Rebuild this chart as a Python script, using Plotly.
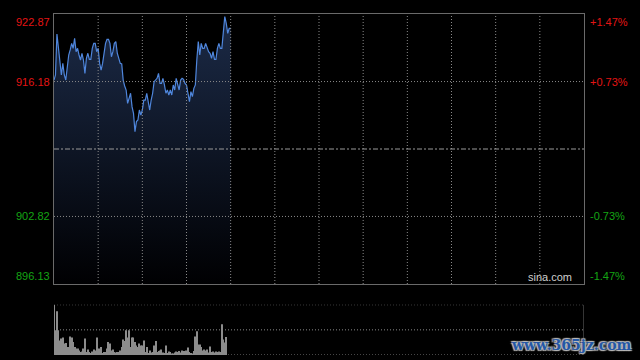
import plotly.graph_objects as go

# ---- data ----
prev_close = 909.50
y_min, y_max = 896.13, 922.87
left_labels = ["922.87", "916.18", "902.82", "896.13"]
left_values = [922.87, 916.18, 902.82, 896.13]
right_labels = ["+1.47%", "+0.73%", "-0.73%", "-1.47%"]
total_minutes = 360

price = [916.33, 916.83, 920.89, 919.64, 918.31, 916.83, 917.98, 916.83, 916.33, 917.98,
         918.81, 919.31, 919.96, 919.47, 920.46, 919.14, 919.47, 918.81, 918.31, 918.98,
         918.31, 916.99, 918.48, 918.98, 918.38, 918.38, 919.47, 919.96, 919.96, 919.14,
         919.47, 917.98, 917.32, 917.98, 918.98, 919.96, 920.36, 920.36, 919.96, 918.64,
         919.14, 919.96, 920.13, 918.98, 918.48, 917.98, 917.92, 916.33, 915.74, 915.34,
         914.02, 914.62, 915.02, 913.69, 913.03, 911.22, 912.21, 912.37, 913.36, 912.87,
         913.36, 914.35, 914.35, 915.02, 914.35, 913.36, 914.35, 915.02, 916.17, 916.33,
         916.50, 916.99, 916.00, 916.00, 916.50, 915.84, 915.02, 915.34, 914.85, 915.34,
         914.85, 915.84, 915.34, 916.50, 915.84, 915.34, 916.33, 916.50, 916.40, 916.00,
         915.84, 915.18, 914.19, 915.18, 914.68, 915.51, 915.84, 918.31, 920.13, 918.81,
         919.96, 919.47, 919.47, 919.96, 919.47, 919.14, 918.98, 918.48, 919.14, 918.38,
         918.38, 919.47, 919.96, 919.47, 919.47, 920.96, 922.61, 921.95, 920.96, 921.45,
         921.45]

volume = [100, 49, 87, 49, 29, 33, 35, 23, 24, 16, 16, 37, 35, 26, 16, 13, 13, 9, 6, 7,
          13, 33, 6, 11, 6, 4, 7, 11, 9, 35, 13, 13, 16, 4, 6, 6, 13, 26, 23, 9,
          11, 6, 5, 6, 6, 9, 16, 31, 28, 49, 35, 49, 16, 35, 35, 26, 19, 16, 23, 19,
          19, 29, 6, 16, 4, 9, 5, 6, 19, 28, 6, 8, 9, 11, 5, 4, 19, 4, 7, 6,
          3, 3, 5, 7, 6, 8, 5, 9, 8, 5, 9, 15, 6, 4, 3, 8, 37, 47, 21, 21,
          16, 9, 11, 9, 11, 5, 17, 6, 7, 5, 7, 6, 7, 6, 61, 31, 25, 36]

minutes = list(range(len(price)))
vol_minutes = list(range(len(volume)))

# ---- styles ----
RED = "#e41414"
GREEN = "#14a514"
GRID = "#8a8a8a"
BORDER = "#6a6a6a"
LINE = "#4f86dc"
FONT = "Liberation Sans, Arial, sans-serif"

fig = go.Figure()

# baseline for the area fill
fig.add_trace(go.Scatter(x=minutes, y=[y_min] * len(minutes), mode="lines",
                         line=dict(width=0), hoverinfo="skip", xaxis="x", yaxis="y"))
fig.add_trace(go.Scatter(
    x=minutes, y=price, mode="lines", fill="tonexty",
    line=dict(color=LINE, width=1.2),
    fillgradient=dict(type="vertical", start=y_min, stop=y_max,
                      colorscale=[[0, "rgb(0,0,2)"], [1, "rgb(28,43,72)"]]),
    xaxis="x", yaxis="y"))

fig.add_trace(go.Bar(x=vol_minutes, y=volume, width=0.7,
                     marker=dict(color="#8c8c8c", line=dict(width=0)),
                     xaxis="x2", yaxis="y2"))

shapes = []
# vertical grid lines of the price panel
for gx in range(30, total_minutes, 30):
    shapes.append(dict(type="line", xref="x", yref="y", x0=gx, x1=gx, y0=y_min, y1=y_max,
                       line=dict(color=GRID, width=1, dash="1px,2px"), layer="above"))
# horizontal grid lines of the price panel
for gy in [916.18, 902.82]:
    shapes.append(dict(type="line", xref="x", yref="y", x0=0, x1=total_minutes, y0=gy, y1=gy,
                       line=dict(color=GRID, width=1, dash="1px,2px"), layer="above"))
shapes.append(dict(type="line", xref="x", yref="y", x0=0, x1=total_minutes,
                   y0=prev_close, y1=prev_close,
                   line=dict(color="#9a9a9a", width=1, dash="5px,2px,2px,2px"), layer="above"))
# volume panel grid
for gy in [0, 50, 100]:
    shapes.append(dict(type="line", xref="x2", yref="y2", x0=0, x1=total_minutes, y0=gy, y1=gy,
                       line=dict(color=GRID, width=1, dash="1px,2px"), layer="above"))
shapes.append(dict(type="line", xref="x2", yref="y2", x0=total_minutes, x1=total_minutes,
                   y0=0, y1=100, line=dict(color=BORDER, width=1), layer="above"))

annotations = []
anchors = ["top", "middle", "middle", "bottom"]
colors = [RED, RED, GREEN, GREEN]
for lab, val, anc, col in zip(left_labels, left_values, anchors, colors):
    annotations.append(dict(xref="paper", yref="y", x=0, y=val, text=lab, showarrow=False,
                            xanchor="right", yanchor=anc, xshift=-2,
                            font=dict(family=FONT, size=11, color=col)))
for lab, val, anc, col in zip(right_labels, left_values, anchors, colors):
    annotations.append(dict(xref="paper", yref="y", x=1, y=val, text=lab, showarrow=False,
                            xanchor="left", yanchor=anc, xshift=4,
                            font=dict(family=FONT, size=11, color=col)))
annotations.append(dict(xref="paper", yref="y", x=0.982, y=y_min, text="sina.com",
                        showarrow=False, xanchor="right", yanchor="bottom", yshift=-1,
                        font=dict(family=FONT, size=11, color="#cfcfcf")))
annotations.append(dict(xref="paper", yref="paper", x=1.094, y=0.03, text="www.365jz.com",
                        showarrow=False, xanchor="right", yanchor="middle",
                        font=dict(family="DejaVu Serif", size=14, color="#2457a6",
                                  weight="bold",
                                  shadow="1px 1px 1px #bbb, -1px -1px 1px #bbb, 1px -1px 1px #bbb, -1px 1px 1px #bbb")))

fig.update_layout(
    width=640, height=360,
    margin=dict(l=54, r=56, t=14, b=5),
    paper_bgcolor="black", plot_bgcolor="black",
    showlegend=False,
    xaxis=dict(domain=[0, 1], anchor="y", range=[0, total_minutes], showgrid=False,
               showticklabels=False, zeroline=False, showline=True, linecolor=BORDER,
               linewidth=1, mirror=True, ticks=""),
    yaxis=dict(domain=[0.2082, 1], anchor="x", range=[y_min, y_max], showgrid=False,
               showticklabels=False, zeroline=False, showline=True, linecolor=BORDER,
               linewidth=1, mirror=True, ticks=""),
    xaxis2=dict(domain=[0, 1], anchor="y2", range=[0, total_minutes], showgrid=False,
                showticklabels=False, zeroline=False, showline=False, ticks=""),
    yaxis2=dict(domain=[0, 0.1475], anchor="x2", range=[0, 100], showgrid=False,
                showticklabels=False, zeroline=False, showline=False, ticks=""),
    bargap=0.3,
    shapes=shapes,
    annotations=annotations,
)

fig.write_html("out.html")
